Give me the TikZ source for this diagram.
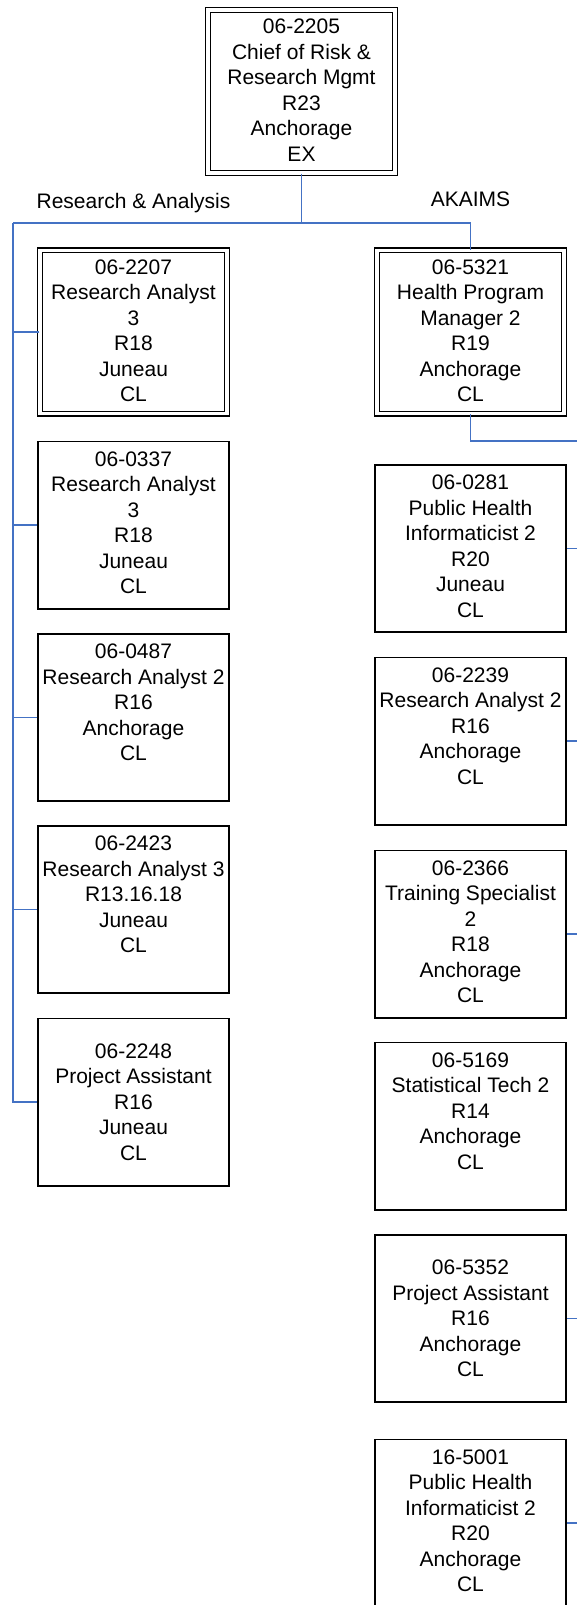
\documentclass[tikz,border=0pt]{standalone}
\usepackage{fontspec}
\setmainfont{Liberation Sans}
\definecolor{linkblue}{RGB}{68,114,196}
\begin{document}
\begin{tikzpicture}[x=1pt, y=-1pt,
        posbox/.style={draw, line width=1.6pt, minimum width=191.4pt, minimum height=167.4pt, inner sep=0pt},
        dblbox/.style={draw, double, line width=1.2pt, double distance=3.6pt, minimum width=187pt, minimum height=163pt, inner sep=0pt},
        postext/.style={align=center, inner sep=0pt, font=\fontsize{21}{25.5}\selectfont},
        grouplabel/.style={anchor=base, inner sep=0pt, font=\fontsize{21}{25.5}\selectfont},
        link/.style={draw=linkblue, line width=1.4pt}]
            \begin{scope}
                \useasboundingbox (0, 0) rectangle (577, 1605);

                \node[dblbox] (b2205) at (301.5, 91.5) {};
                \node[postext, anchor=north] (t2205) at ([yshift=-9.5pt]b2205.north) {06-2205\\Chief of Risk \&\\Research Mgmt\\R23\\Anchorage\\EX};

                \node[grouplabel] (rnalabel) at (133.5, 209) {Research \& Analysis};
                \node[grouplabel] (akaimslabel) at (470.5, 207) {AKAIMS};

                \node[dblbox] (b2207) at (133.5, 332) {};
                \node[postext, anchor=north] (t2207) at ([yshift=-9.5pt]b2207.north) {06-2207\\Research Analyst\\3\\R18\\Juneau\\CL};
                \node[posbox] (b0337) at (133.5, 525) {};
                \node[postext, anchor=north] (t0337) at ([yshift=-10.7pt]b0337.north) {06-0337\\Research Analyst\\3\\R18\\Juneau\\CL};
                \node[posbox] (b0487) at (133.5, 717.5) {};
                \node[postext, anchor=north] (t0487) at ([yshift=-10.7pt]b0487.north) {06-0487\\Research Analyst 2\\R16\\Anchorage\\CL};
                \node[posbox] (b2423) at (133.5, 909.5) {};
                \node[postext, anchor=north] (t2423) at ([yshift=-10.7pt]b2423.north) {06-2423\\Research Analyst 3\\R13.16.18\\Juneau\\CL};
                \node[posbox] (b2248) at (133.5, 1102) {};
                \node[postext] (t2248) at (b2248.center) {06-2248\\Project Assistant\\R16\\Juneau\\CL};

                \node[dblbox] (b5321) at (470.5, 332) {};
                \node[postext, anchor=north] (t5321) at ([yshift=-9.5pt]b5321.north) {06-5321\\Health Program\\Manager 2\\R19\\Anchorage\\CL};
                \node[posbox] (b0281) at (470.5, 548.5) {};
                \node[postext, anchor=north] (t0281) at ([yshift=-10.7pt]b0281.north) {06-0281\\Public Health\\Informaticist 2\\R20\\Juneau\\CL};
                \node[posbox] (b2239) at (470.5, 741) {};
                \node[postext, anchor=north] (t2239) at ([yshift=-10.7pt]b2239.north) {06-2239\\Research Analyst 2\\R16\\Anchorage\\CL};
                \node[posbox] (b2366) at (470.5, 934) {};
                \node[postext, anchor=north] (t2366) at ([yshift=-10.7pt]b2366.north) {06-2366\\Training Specialist\\2\\R18\\Anchorage\\CL};
                \node[posbox] (b5169) at (470.5, 1126) {};
                \node[postext, anchor=north] (t5169) at ([yshift=-10.7pt]b5169.north) {06-5169\\Statistical Tech 2\\R14\\Anchorage\\CL};
                \node[posbox] (b5352) at (470.5, 1318.5) {};
                \node[postext] (t5352) at (b5352.center) {06-5352\\Project Assistant\\R16\\Anchorage\\CL};
                \node[posbox] (b5001) at (470.5, 1523) {};
                \node[postext, anchor=north] (t5001) at ([yshift=-10.7pt]b5001.north) {16-5001\\Public Health\\Informaticist 2\\R20\\Anchorage\\CL};

                \coordinate (split) at (301.5, 223);
                \coordinate (rnbus) at (13, 223);
                \coordinate (akbus) at (577, 441);

                \draw[link] (b2205.south) -- (split);
                \draw[link] (rnbus) -- (split) -| (b5321.north);
                \draw[link] (rnbus) |- (b2248.west);
                \draw[link] (b2207.west) -- (b2207.west -| rnbus);
                \draw[link] (b0337.west) -- (b0337.west -| rnbus);
                \draw[link] (b0487.west) -- (b0487.west -| rnbus);
                \draw[link] (b2423.west) -- (b2423.west -| rnbus);

                \draw[link] (b5321.south) |- (akbus);
                \draw[link] (b0281.east) -- (b0281.east -| akbus);
                \draw[link] (b2239.east) -- (b2239.east -| akbus);
                \draw[link] (b2366.east) -- (b2366.east -| akbus);
                \draw[link] (b5352.east) -- (b5352.east -| akbus);
                \draw[link] (b5001.east) -- (b5001.east -| akbus);

            \end{scope}
        \end{tikzpicture}
\end{document}
